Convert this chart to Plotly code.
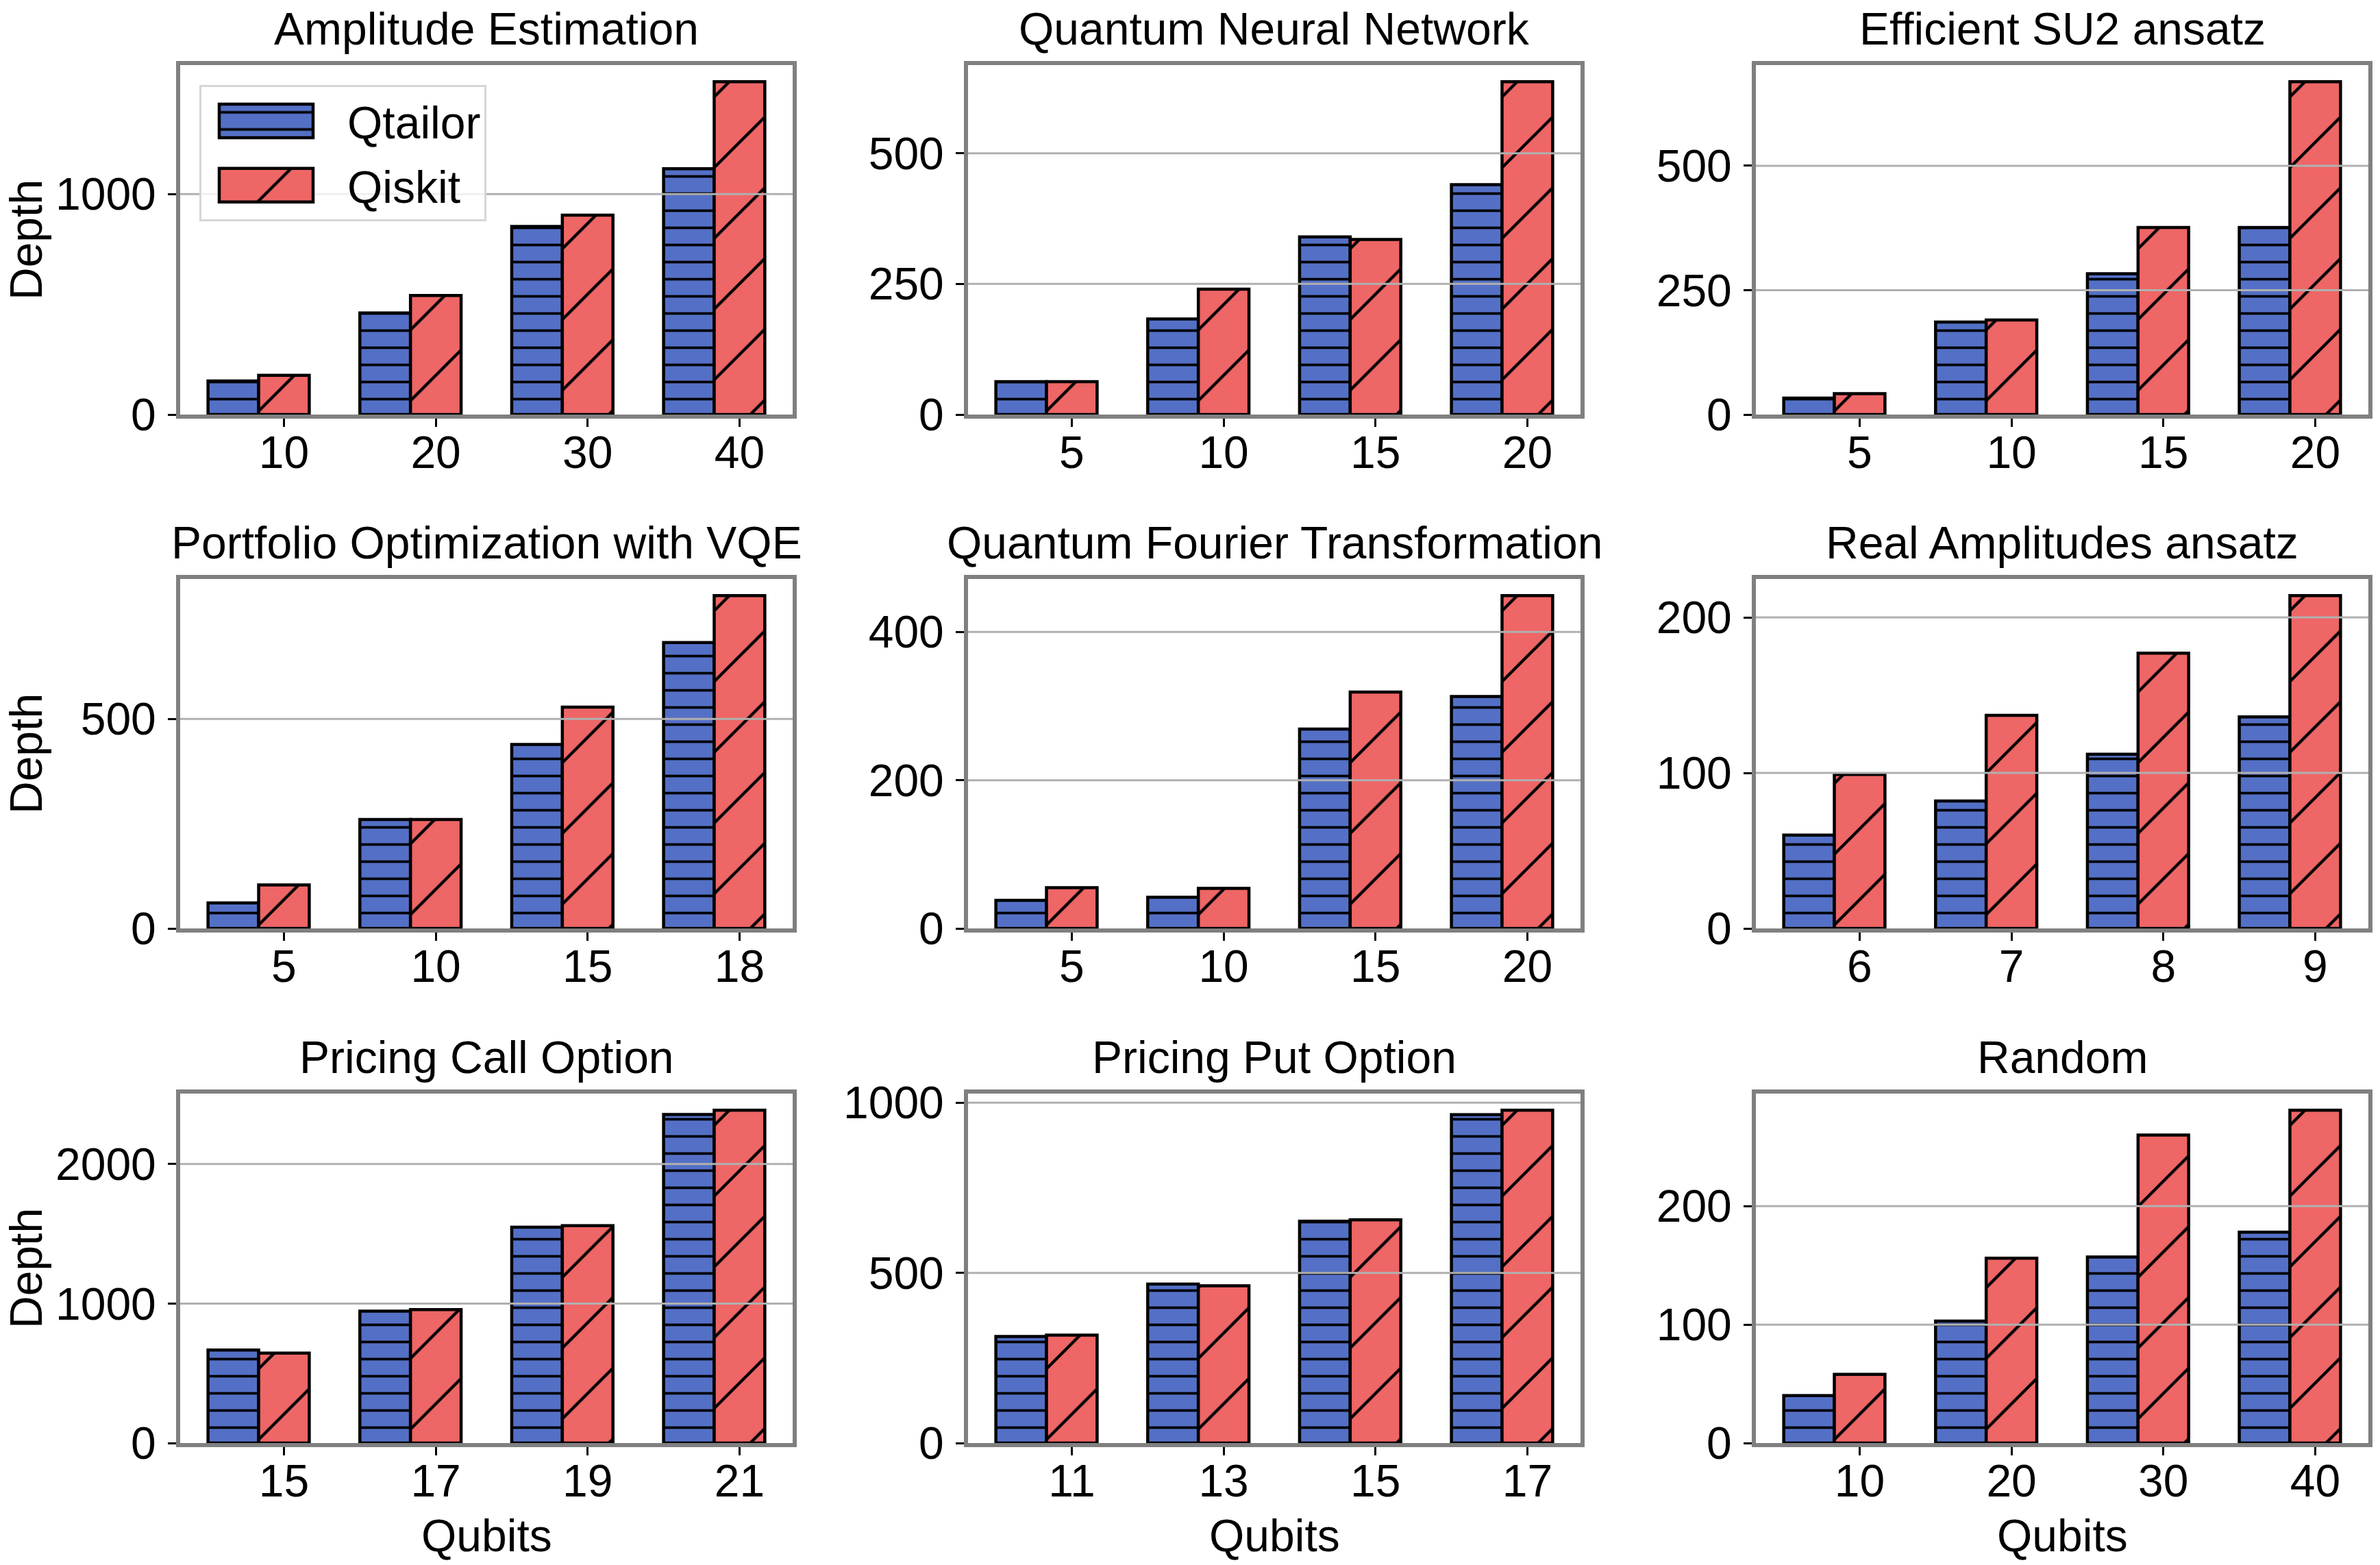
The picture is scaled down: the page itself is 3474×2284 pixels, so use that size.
import plotly.graph_objects as go

# ---------------- data ----------------
ae_qubits = ["10", "20", "30", "40"]
ae_qtailor = [152, 461, 853, 1115]
ae_qiskit = [178, 540, 905, 1510]

qnn_qubits = ["5", "10", "15", "20"]
qnn_qtailor = [63, 183, 340, 440]
qnn_qiskit = [63, 240, 335, 637]

su2_qubits = ["5", "10", "15", "20"]
su2_qtailor = [33, 186, 283, 376]
su2_qiskit = [42, 190, 376, 669]

vqe_qubits = ["5", "10", "15", "18"]
vqe_qtailor = [61, 260, 439, 682]
vqe_qiskit = [104, 260, 528, 794]

qft_qubits = ["5", "10", "15", "20"]
qft_qtailor = [38, 42, 269, 313]
qft_qiskit = [55, 54, 319, 449]

ra_qubits = ["6", "7", "8", "9"]
ra_qtailor = [60, 82, 112, 136]
ra_qiskit = [99, 137, 177, 214]

call_qubits = ["15", "17", "19", "21"]
call_qtailor = [667, 946, 1548, 2355]
call_qiskit = [645, 957, 1558, 2386]

put_qubits = ["11", "13", "15", "17"]
put_qtailor = [313, 467, 652, 965]
put_qiskit = [317, 462, 656, 978]

rnd_qubits = ["10", "20", "30", "40"]
rnd_qtailor = [40, 103, 157, 178]
rnd_qiskit = [58, 156, 260, 281]

titles = ["Amplitude Estimation", "Quantum Neural Network", "Efficient SU2 ansatz",
          "Portfolio Optimization with VQE", "Quantum Fourier Transformation",
          "Real Amplitudes ansatz", "Pricing Call Option", "Pricing Put Option", "Random"]

ytick_sets = [[0, 1000], [0, 250, 500], [0, 250, 500],
              [0, 500], [0, 200, 400], [0, 100, 200],
              [0, 1000, 2000], [0, 500, 1000], [0, 100, 200]]

panels = [
    (ae_qubits, ae_qtailor, ae_qiskit),
    (qnn_qubits, qnn_qtailor, qnn_qiskit),
    (su2_qubits, su2_qtailor, su2_qiskit),
    (vqe_qubits, vqe_qtailor, vqe_qiskit),
    (qft_qubits, qft_qtailor, qft_qiskit),
    (ra_qubits, ra_qtailor, ra_qiskit),
    (call_qubits, call_qtailor, call_qiskit),
    (put_qubits, put_qtailor, put_qiskit),
    (rnd_qubits, rnd_qtailor, rnd_qiskit),
]

series_names = ["Qtailor", "Qiskit"]

# ---------------- style ----------------
W, H = 3474, 2284
FONT = "Liberation Sans, Arial, Helvetica, sans-serif"
FS = 66
BLUE = "#5470c6"
RED = "#ee6666"
SPINE = "#808080"
GRID = "#b0b0b0"
BW = 1 / 3  # bar width in category units
SP = 6      # spine width (px), drawn just outside the domain

col_px = [(260, 1160), (1410, 2310), (2560, 3460)]   # spine centres
row_px = [(92, 608), (842, 1358), (1593, 2109)]

fig = go.Figure()
layout = dict(
    width=W, height=H,
    margin=dict(l=0, r=0, t=0, b=0, autoexpand=False),
    paper_bgcolor="white", plot_bgcolor="white",
    font=dict(family=FONT, size=FS, color="black"),
    barmode="overlay",
    showlegend=True,
    legend=dict(
        x=291 / W, y=1 - 124 / H, xanchor="left", yanchor="top",
        bgcolor="rgba(255,255,255,0.8)", bordercolor="#d6d6d6", borderwidth=3,
        font=dict(family=FONT, size=FS, color="black"),
        traceorder="grouped", tracegroupgap=5, itemwidth=203,
    ),
)
shapes = []
annotations = []

for i, (cats, qt, qk) in enumerate(panels):
    r, c = divmod(i, 3)
    n = i + 1
    xa = "x" if n == 1 else f"x{n}"
    ya = "y" if n == 1 else f"y{n}"
    x0, x1 = col_px[c]
    y0, y1 = row_px[r]

    fig.add_trace(go.Bar(
        x=cats, y=qt, name=series_names[0], xaxis=xa, yaxis=ya,
        offset=-0.5, width=BW, legendgroup="qt", showlegend=(i == 0),
        marker=dict(color=BLUE, line=dict(color="black", width=4.5),
                    pattern=dict(shape="-", size=25, solidity=0.15,
                                 fgcolor="black", bgcolor=BLUE,
                                 fgopacity=1, fillmode="replace")),
    ))
    fig.add_trace(go.Bar(
        x=cats, y=qk, name=series_names[1], xaxis=xa, yaxis=ya,
        offset=-BW / 2, width=BW, legendgroup="qk", showlegend=(i == 0),
        marker=dict(color=RED, line=dict(color="black", width=4.5),
                    pattern=dict(shape="/", size=73, solidity=0.06,
                                 fgcolor="black", bgcolor=RED,
                                 fgopacity=1, fillmode="replace")),
    ))

    ymax = max(max(qt), max(qk)) * 1.05
    axis_common = dict(
        showline=True, mirror=True, linecolor=SPINE, linewidth=SP,
        ticks="outside", tickcolor="black", tickwidth=2.5, ticklen=12,
        tickfont=dict(family=FONT, size=FS, color="black"),
        zeroline=False, showgrid=False, automargin=False,
    )
    span = 3 + 0.5 + BW / 2
    layout["xaxis" if n == 1 else f"xaxis{n}"] = dict(
        axis_common, type="category", anchor=ya,
        domain=[(x0 + SP / 2) / W, (x1 - SP / 2) / W],
        range=[-0.5 - 0.05 * span, 3 + BW / 2 + 0.05 * span],
        categoryorder="array", categoryarray=cats,
        ticklabelstandoff=-19,
    )
    layout["yaxis" if n == 1 else f"yaxis{n}"] = dict(
        axis_common, anchor=xa,
        domain=[1 - (y1 - SP / 2) / H, 1 - (y0 + SP / 2) / H],
        range=[0, ymax], tickvals=ytick_sets[i],
        ticktext=[str(v) for v in ytick_sets[i]],
        ticklabelstandoff=4,
    )
    for v in ytick_sets[i]:
        if v == 0:
            continue
        shapes.append(dict(type="line", xref=f"{xa} domain", yref=ya,
                           x0=0, x1=1, y0=v, y1=v, layer="above",
                           line=dict(color=GRID, width=3)))

    # subplot title
    annotations.append(dict(
        text=titles[i], xref="paper", yref="paper",
        x=(x0 + x1) / 2 / W, y=1 - (y0 - 50) / H,
        xanchor="center", yanchor="middle", showarrow=False,
        font=dict(family=FONT, size=FS, color="black"),
    ))
    if c == 0:
        annotations.append(dict(
            text="Depth", xref="paper", yref="paper",
            x=0, y=1 - (y0 + y1) / 2 / H, textangle=-90,
            xanchor="left", yanchor="middle", showarrow=False, borderpad=0,
            font=dict(family=FONT, size=FS, color="black"),
        ))
    if r == 2:
        annotations.append(dict(
            text="Qubits", xref="paper", yref="paper",
            x=(x0 + x1) / 2 / W, y=1 - 2241 / H,
            xanchor="center", yanchor="middle", showarrow=False,
            font=dict(family=FONT, size=FS, color="black"),
        ))

layout["shapes"] = shapes
layout["annotations"] = annotations
fig.update_layout(**layout)

# page without body margin; enlarge legend swatches to the wide hatched patches
post_js = """
(function(){
  document.documentElement.style.margin = '0';
  document.body.style.margin = '0';
  document.body.style.overflow = 'hidden';
  var gd = document.getElementById('{plot_id}');
  function fix(){
    var items = gd.querySelectorAll('.legend .traces');
    var bars = gd.querySelectorAll('.barlayer .trace');
    items.forEach(function(it, k){
      var p = it.querySelector('.legendpoints path');
      if(!p) return;
      p.setAttribute('d', 'M56.5,24.5H-80.5V-24.5H56.5Z');
      p.style.strokeWidth = '4.5px';
      if(bars[k]){
        var bp = bars[k].querySelector('.point path');
        if(bp && bp.style.fill){ p.style.fill = bp.style.fill; }
      }
    });
    // hatch strokes fully opaque black, like the reference
    gd.querySelectorAll('defs pattern path, defs pattern line').forEach(function(e){
      e.setAttribute('opacity', '1');
      e.style.opacity = '1';
    });
  }
  fix();
  if(gd.on){ gd.on('plotly_afterplot', fix); }
  setTimeout(fix, 50);
  setTimeout(fix, 400);
})();
"""
fig.write_html("out.html", post_script=post_js, config={"displayModeBar": False})
